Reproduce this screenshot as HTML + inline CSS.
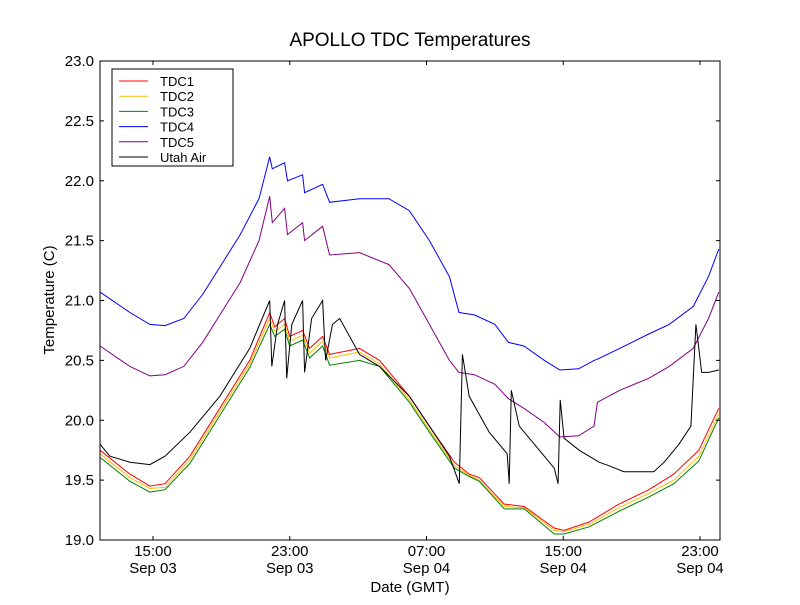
<!DOCTYPE html>
<html><head><meta charset="utf-8"><style>
body{margin:0;background:#fff;}
svg text{font-family:"Liberation Sans","DejaVu Sans",sans-serif;}
</style></head><body>
<svg id="chart" width="800" height="600" xmlns="http://www.w3.org/2000/svg">
<rect width="800" height="600" fill="#fff"/>
<text x="410" y="46" font-size="19" text-anchor="middle">APOLLO TDC Temperatures</text>
<text x="410" y="592" font-size="15" text-anchor="middle">Date (GMT)</text>
<text x="54" y="300" font-size="15" text-anchor="middle" transform="rotate(-90 54 300)">Temperature (C)</text>
<g id="series"></g>
<g id="axes"></g>
<g id="legend"></g>
</svg>
<script>
// Data (time in hours from Sep 03 00:00 GMT)
const tA = [11.9,13.65,14.82,15.7,17.16,18.91,20.66,21.83,22.12,22.7,23.0,23.75,24.16,24.92,25.33,27.08,28.25,30.0,31.17,32.63,33.5,34.09,35.55,36.72,38.47,39.05,40.51,42.26,44.01,45.47,46.93,48.1];
const tdc1 = [19.75,19.55,19.45,19.47,19.7,20.1,20.5,20.9,20.78,20.85,20.7,20.75,20.6,20.7,20.55,20.6,20.5,20.2,19.95,19.65,19.55,19.52,19.3,19.28,19.1,19.08,19.15,19.3,19.42,19.55,19.75,20.1];
const tdc2 = [19.72,19.52,19.43,19.44,19.67,20.07,20.47,20.85,20.74,20.8,20.66,20.71,20.56,20.66,20.52,20.57,20.47,20.17,19.92,19.62,19.54,19.5,19.28,19.27,19.08,19.07,19.13,19.27,19.39,19.5,19.7,20.05];
const tdc3 = [19.69,19.49,19.4,19.42,19.64,20.04,20.44,20.8,20.7,20.76,20.62,20.67,20.52,20.62,20.46,20.5,20.45,20.15,19.9,19.6,19.53,19.49,19.26,19.26,19.05,19.05,19.11,19.24,19.36,19.47,19.66,20.02];
const t4 = [11.9,13.65,14.82,15.7,16.8,17.9,19.0,20.1,21.2,21.83,21.98,22.7,22.87,23.75,23.87,24.92,25.33,27.08,28.8,30.0,31.17,32.34,32.9,33.8,35.0,35.8,36.7,37.9,38.8,39.9,40.8,41.0,42.3,44.0,45.2,46.6,47.5,48.1];
const tdc4 = [21.07,20.9,20.8,20.79,20.85,21.05,21.3,21.55,21.85,22.2,22.1,22.15,22.0,22.05,21.9,21.97,21.82,21.85,21.85,21.75,21.5,21.2,20.9,20.88,20.8,20.65,20.62,20.5,20.42,20.43,20.5,20.51,20.6,20.72,20.8,20.95,21.2,21.43];
const tdc5 = [20.62,20.45,20.37,20.38,20.45,20.65,20.9,21.15,21.5,21.87,21.65,21.77,21.55,21.65,21.5,21.62,21.38,21.4,21.3,21.1,20.8,20.5,20.4,20.38,20.3,20.18,20.1,19.98,19.86,19.87,19.95,20.15,20.25,20.35,20.45,20.6,20.85,21.07];
const tAir = [11.9,12.48,13.65,14.82,15.7,17.16,18.91,20.66,21.83,21.95,22.29,22.7,22.82,23.12,23.75,23.87,24.28,24.92,25.1,25.5,25.92,26.5,27.08,28.25,30.0,31.17,32.34,32.92,33.1,33.5,34.67,35.72,35.84,35.96,36.43,37.6,38.47,38.7,38.82,39.05,39.93,41.1,41.68,42.55,44.3,44.9,45.77,46.47,46.76,47.1,47.5,48.1];
const air = [19.8,19.7,19.65,19.63,19.7,19.9,20.2,20.6,21.0,20.45,20.8,21.0,20.35,20.8,21.0,20.4,20.85,21.0,20.5,20.8,20.85,20.7,20.55,20.45,20.2,19.95,19.7,19.47,20.55,20.2,19.9,19.72,19.47,20.25,19.95,19.75,19.6,19.47,20.17,19.85,19.75,19.65,19.62,19.57,19.57,19.65,19.8,19.95,20.8,20.4,20.4,20.42];
const yTicks = [19.0,19.5,20.0,20.5,21.0,21.5,22.0,22.5,23.0];
const xTickHours = [15,23,31,39,47];
const xTickTimes = ["15:00","23:00","07:00","15:00","23:00"];
const xTickDates = ["Sep 03","Sep 03","Sep 04","Sep 04","Sep 04"];
const seriesNames = ["TDC1","TDC2","TDC3","TDC4","TDC5","Utah Air"];
const seriesColors = ["#ff0000","#ffbf00","#008000","#0000ff","#800080","#000000"];

const L=100,R=720,T=61,B=540, X0=11.9,X1=48.17, Y0=19,Y1=23;
const xs=t=>L+(t-X0)/(X1-X0)*(R-L);
const ys=v=>B-(v-Y0)/(Y1-Y0)*(B-T);
const NS="http://www.w3.org/2000/svg";
function mk(tag,attrs,parent){const e=document.createElementNS(NS,tag);for(const k in attrs)e.setAttribute(k,attrs[k]);parent.appendChild(e);return e;}
const sg=document.getElementById('series');
const seriesData=[[tA,tdc1],[tA,tdc2],[tA,tdc3],[t4,tdc4],[t4,tdc5],[tAir,air]];
seriesData.forEach((s,i)=>{
  const d=s[0].map((t,j)=>(j?'L':'M')+xs(t).toFixed(1)+','+ys(s[1][j]).toFixed(1)).join('');
  const p=mk('path',{d:d,fill:'none',stroke:seriesColors[i],'stroke-width':1},sg);
  
  
});
const ax=document.getElementById('axes');
const fr=mk('rect',{x:L,y:T,width:R-L,height:B-T,fill:'none',stroke:'#000','stroke-width':1},ax);


yTicks.forEach(v=>{
  const y=ys(v);
  mk('line',{x1:L,x2:L+4,y1:y,y2:y,stroke:'#000'},ax);
  mk('line',{x1:R,x2:R-4,y1:y,y2:y,stroke:'#000'},ax);
  const t=mk('text',{x:L-6,y:y+5,'font-size':15,'text-anchor':'end'},ax);
  t.textContent=v.toFixed(1);
  
  
});
xTickHours.forEach((h,i)=>{
  const x=xs(h);
  mk('line',{x1:x,x2:x,y1:B,y2:B-4,stroke:'#000'},ax);
  mk('line',{x1:x,x2:x,y1:T,y2:T+4,stroke:'#000'},ax);
  const t=mk('text',{x:x,y:556,'font-size':15,'text-anchor':'middle'},ax);
  t.textContent=xTickTimes[i];
  
  
  const t2=mk('text',{x:x,y:573,'font-size':15,'text-anchor':'middle'},ax);
  t2.textContent=xTickDates[i];
  
  
});
const lg=document.getElementById('legend');
const lb=mk('rect',{x:112,y:69,width:121,height:97,fill:'#fff',stroke:'#000','stroke-width':1},lg);


seriesNames.forEach((n,i)=>{
  const y=81+i*15.2;
  const l=mk('line',{x1:119,x2:148,y1:y,y2:y,stroke:seriesColors[i],'stroke-width':1},lg);
  
  
  const t=mk('text',{x:160,y:y+5,'font-size':13},lg);
  t.textContent=n;
  
  
});
</script>
</body></html>
